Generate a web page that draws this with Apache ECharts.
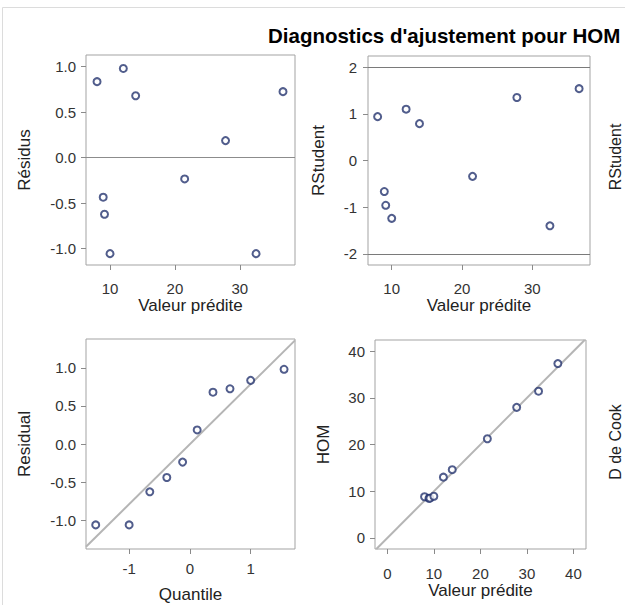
<!DOCTYPE html>
<html>
<head>
<meta charset="utf-8">
<script src="https://cdn.jsdelivr.net/npm/echarts@6/dist/echarts.min.js"></script>
<style>
  html, body { margin: 0; padding: 0; background: #ffffff; }
  #chart { width: 625px; height: 605px; }
</style>
</head>
<body>
<div id="chart"></div>
<script>
// Fit diagnostics for the HOM model: one entry per observation
const predicted = [8.0, 12.05, 13.95, 36.65, 27.8, 21.5, 8.95, 9.15, 10.0, 32.5];
const residual  = [0.835, 0.98, 0.68, 0.725, 0.187, -0.234, -0.435, -0.622, -1.055, -1.055];
const rstudent  = [0.94, 1.1, 0.79, 1.54, 1.35, -0.34, -0.665, -0.96, -1.24, -1.40];
// Normal quantiles used for the residual Q-Q plot
const quantile  = [-1.55, -1.0, -0.66, -0.38, -0.12, 0.12, 0.38, 0.66, 1.0, 1.55];

// Tick labels on each axis
const predTicks = [10, 20, 30];
const residTicks = [-1.0, -0.5, 0.0, 0.5, 1.0];
const rstudTicks = [-2, -1, 0, 1, 2];
const quantTicks = [-1, 0, 1];
const homTicks = [0, 10, 20, 30, 40];
const rstudLimits = [-2, 2];

const FONT = "'Liberation Sans', Arial, sans-serif";
const MARK = '#25356f';

const observed = predicted.map((p, i) => +(p + residual[i]).toFixed(3));
const sortedResid = residual.slice().sort((a, b) => a - b);
const mean = residual.reduce((s, v) => s + v, 0) / residual.length;
const sd = Math.sqrt(residual.reduce((s, v) => s + (v - mean) ** 2, 0) / (residual.length - 1));

function axis(gridIndex, min, max, ticks, name, gap, isY, labelMargin, fmt) {
  return {
    type: 'value',
    gridIndex, min, max,
    name, nameLocation: 'middle', nameGap: gap,
    nameTextStyle: { fontFamily: FONT, fontSize: 17, color: '#222' },
    axisLine: { show: false, onZero: false },
    axisTick: { show: true, inside: false, length: 5, customValues: ticks,
                lineStyle: { color: '#8a8a8a', width: 1 } },
    axisLabel: { customValues: ticks, margin: labelMargin,
                 fontFamily: FONT, fontSize: 15, color: '#333',
                 formatter: fmt || (v => String(v)) },
    splitLine: { show: false }
  };
}
const oneDec = v => v.toFixed(1);

const grids = [
  { left: 86, top: 55, width: 209, height: 210 },
  { left: 368, top: 56, width: 222, height: 209 },
  { left: 86, top: 339, width: 209, height: 210 },
  { left: 375, top: 340, width: 211, height: 209 }
].map(g => Object.assign(g, { show: true, borderColor: '#a3a3a3', borderWidth: 1,
                               backgroundColor: '#ffffff', containLabel: false }));

const scatterStyle = {
  type: 'scatter', symbol: 'emptyCircle', symbolSize: 7,
  itemStyle: { color: MARK, borderColor: MARK, borderWidth: 1.5 },
  z: 5, silent: true
};

const qqLo = -1.71, qqHi = 1.73;

const option = {
  animation: false,
  backgroundColor: '#ffffff',
  grid: grids,
  xAxis: [
    axis(0, 6.3, 38.5, predTicks, 'Valeur prédite', 30, false, 16),
    axis(1, 6.63, 38.2, predTicks, 'Valeur prédite', 32, false, 16),
    axis(2, qqLo, qqHi, quantTicks, 'Quantile', 37, false, 12),
    axis(3, -2.65, 42.7, homTicks, 'Valeur prédite', 33, false, 17)
  ],
  yAxis: [
    axis(0, -1.18, 1.128, residTicks, 'Résidus', 53, true, 10, oneDec),
    axis(1, -2.24, 2.24, rstudTicks, 'RStudent', 41, true, 11),
    axis(2, -1.37, 1.376, residTicks, 'Residual', 53, true, 10, oneDec),
    axis(3, -2.36, 42.42, homTicks, 'HOM', 43, true, 10)
  ],
  series: [
    Object.assign({}, scatterStyle, {
      xAxisIndex: 0, yAxisIndex: 0,
      data: predicted.map((p, i) => [p, residual[i]]),
      markLine: { silent: true, symbol: 'none', label: { show: false },
                  lineStyle: { color: '#8c8c8c', width: 1, type: 'solid' },
                  data: [{ yAxis: 0 }] }
    }),
    Object.assign({}, scatterStyle, {
      xAxisIndex: 1, yAxisIndex: 1,
      data: predicted.map((p, i) => [p, rstudent[i]]),
      markLine: { silent: true, symbol: 'none', label: { show: false },
                  lineStyle: { color: '#7a7a7a', width: 1, type: 'solid' },
                  data: rstudLimits.map(v => ({ yAxis: v })) }
    }),
    {
      type: 'line', xAxisIndex: 2, yAxisIndex: 2, silent: true,
      symbol: 'none', clip: true, z: 2,
      lineStyle: { color: '#b5b5b5', width: 2 },
      data: [[qqLo, mean + sd * qqLo], [qqHi, mean + sd * qqHi]]
    },
    Object.assign({}, scatterStyle, {
      xAxisIndex: 2, yAxisIndex: 2,
      data: quantile.map((q, i) => [q, sortedResid[i]])
    }),
    {
      type: 'line', xAxisIndex: 3, yAxisIndex: 3, silent: true,
      symbol: 'none', clip: true, z: 2,
      lineStyle: { color: '#b5b5b5', width: 2 },
      data: [[-2.36, -2.36], [42.42, 42.42]]
    },
    Object.assign({}, scatterStyle, {
      xAxisIndex: 3, yAxisIndex: 3,
      data: predicted.map((p, i) => [p, observed[i]])
    })
  ],
  graphic: [
    { type: 'rect', silent: true, z: -1,
      shape: { x: 2.5, y: 7.5, width: 700, height: 700 },
      style: { fill: 'none', stroke: '#dcdcdc', lineWidth: 1 } },
    { type: 'text', left: 268, top: 25, silent: true,
      style: { text: "Diagnostics d'ajustement pour HOM", fontFamily: FONT,
               fontSize: 20.5, fontWeight: 'bold', fill: '#000' } },
    { type: 'text', x: 607, y: 157, rotation: Math.PI / 2, silent: true,
      style: { text: 'RStudent', fontFamily: FONT, fontSize: 16, fill: '#222',
               align: 'center', verticalAlign: 'top' } },
    { type: 'text', x: 607, y: 442, rotation: Math.PI / 2, silent: true,
      style: { text: 'D de Cook', fontFamily: FONT, fontSize: 16, fill: '#222',
               align: 'center', verticalAlign: 'top' } }
  ]
};

const chart = echarts.init(document.getElementById('chart'), null, { renderer: 'svg' });
chart.setOption(option);
</script>
</body>
</html>
